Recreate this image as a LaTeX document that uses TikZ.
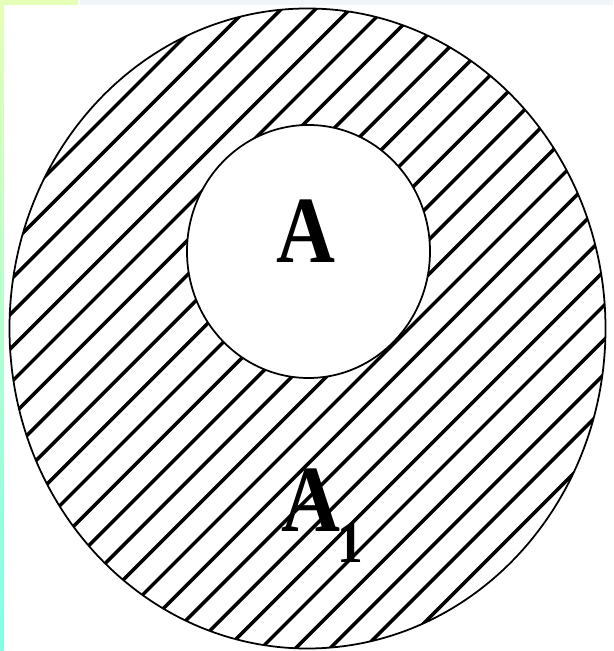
\documentclass[tikz,border=0pt]{standalone}
\usepackage{fontspec}
\setmainfont{Liberation Serif}
\usetikzlibrary{positioning}

\definecolor{stripetop}{HTML}{E6FFB8}
\definecolor{stripebot}{HTML}{80FFE6}
\definecolor{bandgrey}{HTML}{F0F5FA}

\tikzset{
  hatch/.style={line width=2pt, line cap=round},
  rim/.style={line width=1pt},
  letter/.style={font=\fontsize{54}{54}\selectfont\bfseries, inner sep=0pt,
    xscale=0.86, transform shape}
}

\begin{document}
\begin{tikzpicture}
    \useasboundingbox (0,0) rectangle (12.26,13.02);
    \fill[white] (0,0) rectangle (12.26,13.02);
    % frame strips
    \fill[bandgrey] (1.6,12.92) rectangle (12.26,13.02);
    \fill[stripetop] (0,12.92) rectangle (1.55,13.02);
    \shade[top color=stripetop, bottom color=stripebot] (0,0) rectangle (0.07,13.02);
    % hatched ring
    \begin{scope}
      \clip (6.15,6.45) ellipse (5.96 and 6.40);
      \foreach \k in {-19,...,17}
        \draw[hatch] ({0.354+0.688*\k-1},-1) -- ++(15,15);
    \end{scope}
    \fill[white] (6.17,7.99) ellipse (2.43 and 2.53);
    \draw[rim] (6.15,6.45) ellipse (5.96 and 6.40);
    \draw[rim] (6.17,7.99) ellipse (2.43 and 2.53);
    % labels
    \node[letter] (inner) at (6.12,8.4) {A};
    \node[letter, anchor=base west] (outer) at (5.62,2.38)
      {A\kern-2pt\raisebox{-0.62cm}{\fontsize{34}{34}\selectfont 1}};
\end{tikzpicture}
\end{document}
